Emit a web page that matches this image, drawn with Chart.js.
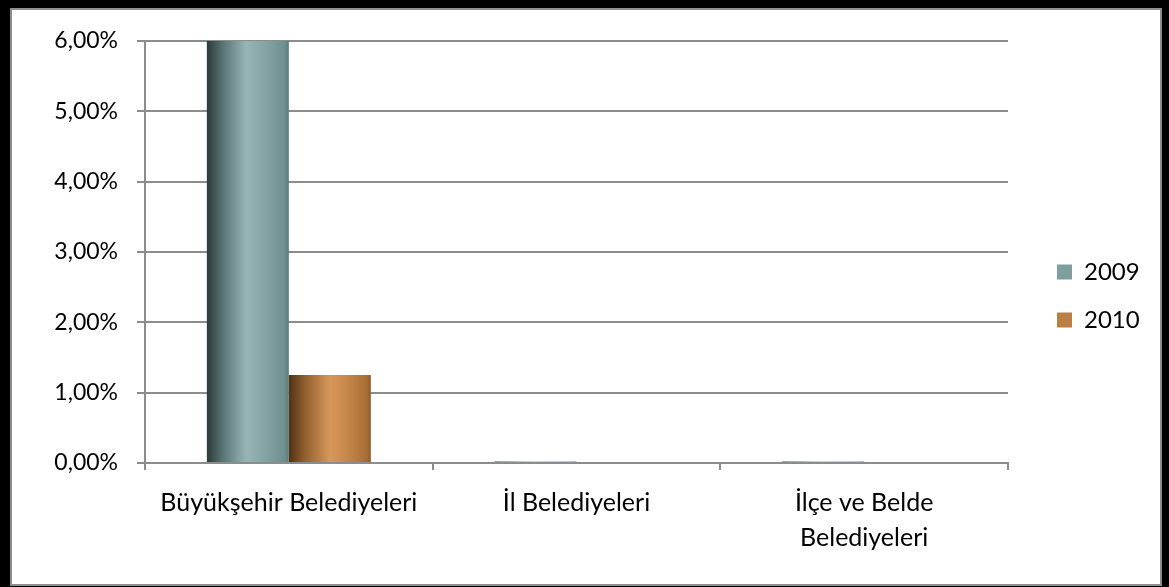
<!DOCTYPE html>
<html>
<head>
<meta charset="utf-8">
<script src="https://cdn.jsdelivr.net/npm/chart.js@4/dist/chart.umd.min.js"></script>
<style>
  html, body { margin: 0; padding: 0; background: #000; }
  #frame {
    position: absolute; left: 10px; top: 8px; width: 1152px; height: 578px;
    background: #fff; border: 2px solid #8e8e8e; box-sizing: border-box;
  }
  #chart { position: absolute; left: 0; top: 0; }
</style>
</head>
<body>
<div id="frame"></div>
<canvas id="chart" width="1169" height="587"></canvas>
<script>
/* Percentage bar chart, 2009 vs 2010 */

const categories = ["Büyükşehir Belediyeleri", "İl Belediyeleri", ["İlçe ve Belde", "Belediyeleri"]];
const seriesNames = ["2009", "2010"];
const values2009 = [6.0, 0.02, 0.02];
const values2010 = [1.25, 0.0, 0.0];
const yMin = 0;
const yMax = 6;
const yStep = 1;

const FONT = "Lato";

// excel-ish cylinder shading, left dark -> light middle -> medium right
const shades = [
  [[0, "#2b3a3a"], [0.2, "#5b7575"], [0.48, "#98b5b5"], [0.7, "#86a4a4"], [0.95, "#6f8f8f"], [1, "#5c7a7a"]],
  [[0, "#4e3315"], [0.2, "#936030"], [0.5, "#d7975a"], [0.7, "#c8884c"], [0.95, "#a86e36"], [1, "#8e5a2a"]],
];

const shadePlugin = {
  id: "shade",
  beforeDatasetsDraw(chart) {
    const ctx = chart.ctx;
    chart.data.datasets.forEach((ds, di) => {
      const meta = chart.getDatasetMeta(di);
      meta.data.forEach((bar) => {
        const x0 = bar.x - bar.width / 2;
        const g = ctx.createLinearGradient(x0, 0, x0 + bar.width, 0);
        shades[di].forEach(([p, c]) => g.addColorStop(p, c));
        bar.options = Object.assign({}, bar.options, { backgroundColor: g });
      });
    });
  },
};

// push legend right, away from the plot
const legendShift = {
  id: "legendShift",
  afterLayout(chart) {
    const lg = chart.legend;
    lg.left = 1057 - lg.options.labels.padding;
    lg.right = chart.width;
    lg.width = lg.right - lg.left;
  },
};

function pct(v) {
  return v.toFixed(2).replace(".", ",") + "%";
}

document.addEventListener("DOMContentLoaded", () => {
  const ctx = document.getElementById("chart").getContext("2d");

  new Chart(ctx, {
    type: "bar",
    data: {
      labels: categories,
      datasets: [
        { label: seriesNames[0], data: values2009, backgroundColor: "#7f9e9e", borderWidth: 0 },
        { label: seriesNames[1], data: values2010, backgroundColor: "#bb7f44", borderWidth: 0 },
      ],
    },
    plugins: [shadePlugin, legendShift],
    options: {
      responsive: false,
      animation: false,
      layout: { padding: { top: 5, right: 61, bottom: 0, left: 0 } },
      datasets: {
        bar: { categoryPercentage: 0.57, barPercentage: 1.0 },
      },
      plugins: {
        legend: {
          position: "right",
          maxWidth: 100,
          labels: {
            boxWidth: 15,
            boxHeight: 15,
            padding: 24,
            color: "#000",
            font: { family: FONT, size: 24 },
          },
        },
        tooltip: { enabled: false },
      },
      scales: {
        x: {
          grid: { drawOnChartArea: false, drawTicks: true, tickLength: 7, color: "#8c8c8c", lineWidth: 2 },
          border: { color: "#8c8c8c", width: 2 },
          ticks: {
            color: "#000",
            padding: 15,
            maxRotation: 0,
            autoSkip: false,
            font: { family: FONT, size: 25, lineHeight: 1.4 },
          },
          afterFit(scale) {
            scale.height = 124;
          },
        },
        y: {
          min: yMin,
          max: yMax,
          grid: { color: "#8c8c8c", lineWidth: 2, tickLength: 8 },
          border: { color: "#8c8c8c", width: 2 },
          ticks: {
            stepSize: yStep,
            color: "#000",
            padding: 19,
            font: { family: FONT, size: 23 },
            callback: (v) => pct(v),
          },
          afterFit(scale) {
            scale.width = 145;
            scale.paddingTop = 41;
          },
        },
      },
    },
  });
});
</script>
</body>
</html>
